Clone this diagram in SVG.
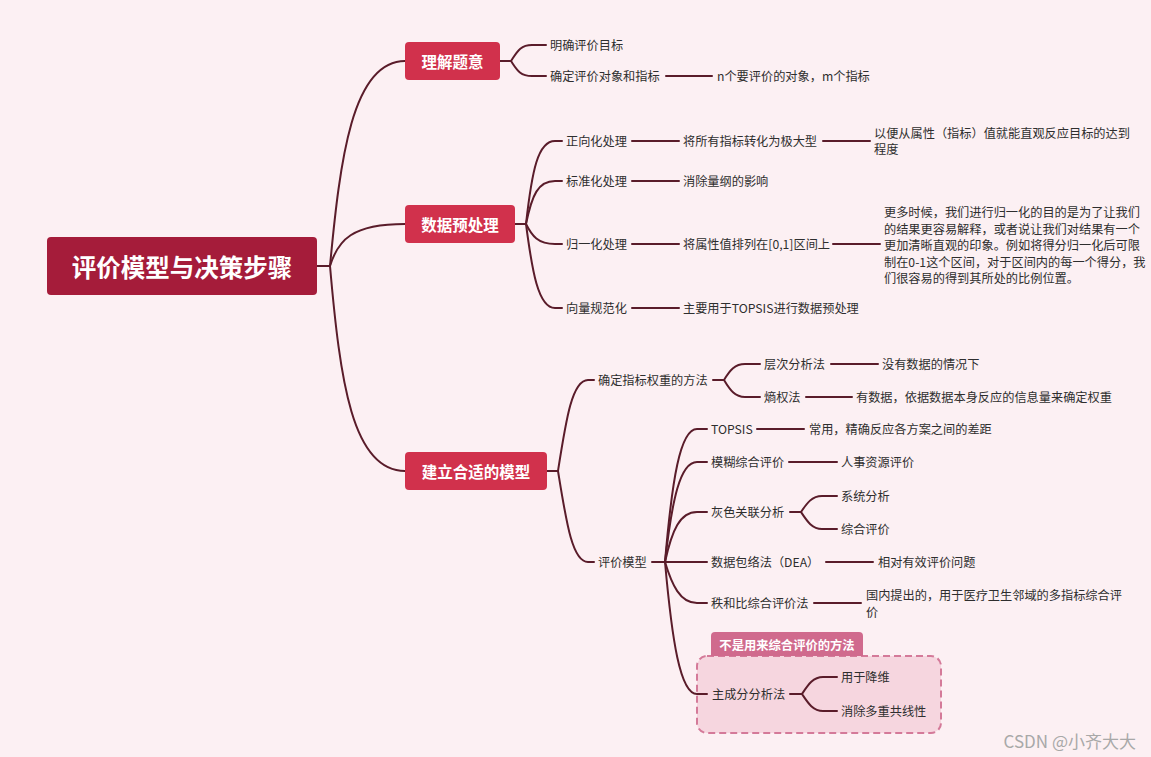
<svg xmlns="http://www.w3.org/2000/svg" width="1151" height="757" viewBox="0 0 1151 757">
<style>
.t{font-family:"Noto Sans CJK SC","Noto Sans",sans-serif;font-size:12.2px;fill:#2e2e2e;dominant-baseline:central}
.l1{font-family:"Noto Sans CJK SC","Noto Sans",sans-serif;font-size:15.5px;font-weight:bold;fill:#ffffff;dominant-baseline:central;text-anchor:middle}
.root{font-family:"Noto Sans CJK SC","Noto Sans",sans-serif;font-size:24.5px;font-weight:bold;fill:#ffffff;dominant-baseline:central;text-anchor:middle}
.c{fill:none;stroke:#5a1c2a;stroke-width:2;stroke-linecap:round}
.b1{fill:#d1314c}
</style>
<rect width="1151" height="757" fill="#fcf0f3"/>

<g id="boundary">
<rect x="697" y="656" width="244" height="77" rx="10" fill="#f6d6df" stroke="#d47a99" stroke-width="2" stroke-dasharray="7 4"/>
<path d="M711,656 V636 Q711,632 715,632 H859 Q863,632 863,636 V656 Z" fill="#d06a8d"/>
<text x="787" y="645" class="l1" style="font-size:12.3px">不是用来综合评价的方法</text>
</g>

<g id="connectors">
<path class="c" d="M317,266 L330,266"/>
<path class="c" d="M330,266 C340,160 352,61 405,61"/>
<path class="c" d="M330,266 C338,240 352,224 405,224"/>
<path class="c" d="M330,266 C340,380 352,471 405,471"/>
<path class="c" d="M500,61 L511,61 M511,61 C517,52 520,45 532,45 L546,45 M511,61 C517,70 520,76 532,76 L546,76"/>
<path class="c" d="M666,76 L712,76"/>
<path class="c" d="M515,224 L526,224"/>
<path class="c" d="M526,224 C532,170 538,141 555,141 L562,141"/>
<path class="c" d="M526,224 C532,195 538,181 555,181 L562,181"/>
<path class="c" d="M526,224 C532,236 538,244 555,244 L562,244"/>
<path class="c" d="M526,224 C532,270 538,308 555,308 L562,308"/>
<path class="c" d="M632,141 L679,141 M823,141 L870,141 M632,181 L679,181 M632,244 L679,244 M833,244 L880,244 M632,308 L679,308"/>
<path class="c" d="M547,471 L558,471"/>
<path class="c" d="M558,471 C566,420 572,380 588,380 L594,380"/>
<path class="c" d="M558,471 C566,520 572,562 588,562 L594,562"/>
<path class="c" d="M713,380 L724,380 M724,380 C730,370 735,364 745,364 L760,364 M724,380 C730,390 735,397 745,397 L760,397"/>
<path class="c" d="M831,364 L878,364 M806,397 L852,397"/>
<path class="c" d="M652,562 L665,562"/>
<path class="c" d="M665,562 C672,480 680,429 697,429 L707,429"/>
<path class="c" d="M665,562 C672,500 680,462 697,462 L707,462"/>
<path class="c" d="M665,562 C672,530 680,512 697,512 L707,512"/>
<path class="c" d="M665,562 L707,562"/>
<path class="c" d="M665,562 C672,585 680,603 697,603 L707,603"/>
<path class="c" d="M665,562 C672,640 680,694 697,694 L707,694"/>
<path class="c" d="M757,429 L804,429 M789,462 L837,462 M826,562 L873,562 M814,603 L861,603"/>
<path class="c" d="M790,512 L801,512 M801,512 C807,503 812,496 822,496 L837,496 M801,512 C807,521 812,529 822,529 L837,529"/>
<path class="c" d="M790,694 L802,694 M802,694 C808,685 813,677 823,677 L837,677 M802,694 C808,703 813,711 823,711 L837,711"/>
</g>

<g id="root">
<rect x="47" y="237" width="270" height="58" rx="4" fill="#a51c3a"/>
<text x="182" y="266" class="root">评价模型与决策步骤</text>
</g>

<g id="n-lijie">
<rect x="405" y="42" width="95" height="38" rx="4" class="b1"/>
<text x="452.5" y="61" class="l1">理解题意</text>
</g>
<g id="n-mubiao"><text x="550" y="45" class="t">明确评价目标</text></g>
<g id="n-duixiang"><text x="550" y="76" class="t">确定评价对象和指标</text></g>
<g id="n-nm"><text x="717" y="76" class="t">n个要评价的对象，m个指标</text></g>

<g id="n-yuchuli">
<rect x="405" y="205" width="110" height="38" rx="4" class="b1"/>
<text x="460" y="224" class="l1">数据预处理</text>
</g>
<g id="n-zhengxiang"><text x="566" y="141" class="t">正向化处理</text></g>
<g id="n-jida"><text x="683" y="141" class="t">将所有指标转化为极大型</text></g>
<g id="n-yibian"><text x="874" y="133" class="t">以便从属性（指标）值就能直观反应目标的达到</text><text x="874" y="149" class="t">程度</text></g>
<g id="n-biaozhun"><text x="566" y="181" class="t">标准化处理</text></g>
<g id="n-lianggang"><text x="683" y="181" class="t">消除量纲的影响</text></g>
<g id="n-guiyi"><text x="566" y="244" class="t">归一化处理</text></g>
<g id="n-qujian"><text x="683" y="244" class="t">将属性值排列在[0,1]区间上</text></g>
<g id="n-gengduo">
<text x="884" y="212" class="t">更多时候，我们进行归一化的目的是为了让我们</text>
<text x="884" y="228.5" class="t">的结果更容易解释，或者说让我们对结果有一个</text>
<text x="884" y="245" class="t">更加清晰直观的印象。例如将得分归一化后可限</text>
<text x="884" y="261.5" class="t">制在0-1这个区间，对于区间内的每一个得分，我</text>
<text x="884" y="278" class="t">们很容易的得到其所处的比例位置。</text>
</g>
<g id="n-xiangliang"><text x="566" y="308" class="t">向量规范化</text></g>
<g id="n-topsispre"><text x="683" y="308" class="t">主要用于TOPSIS进行数据预处理</text></g>

<g id="n-moxing">
<rect x="405" y="452" width="142" height="38" rx="4" class="b1"/>
<text x="476" y="471" class="l1">建立合适的模型</text>
</g>
<g id="n-quanzhong"><text x="598" y="380" class="t">确定指标权重的方法</text></g>
<g id="n-cengci"><text x="764" y="364" class="t">层次分析法</text></g>
<g id="n-meiyou"><text x="882" y="364" class="t">没有数据的情况下</text></g>
<g id="n-shangquan"><text x="764" y="397" class="t">熵权法</text></g>
<g id="n-youshuju"><text x="856" y="397" class="t">有数据，依据数据本身反应的信息量来确定权重</text></g>
<g id="n-pingjia"><text x="598" y="562" class="t">评价模型</text></g>
<g id="n-topsis"><text x="711" y="429" class="t">TOPSIS</text></g>
<g id="n-changyong"><text x="809" y="429" class="t">常用，精确反应各方案之间的差距</text></g>
<g id="n-mohu"><text x="711" y="462" class="t">模糊综合评价</text></g>
<g id="n-renshi"><text x="841" y="462" class="t">人事资源评价</text></g>
<g id="n-huise"><text x="711" y="512" class="t">灰色关联分析</text></g>
<g id="n-xitong"><text x="841" y="496" class="t">系统分析</text></g>
<g id="n-zonghe"><text x="841" y="529" class="t">综合评价</text></g>
<g id="n-dea"><text x="711" y="562" class="t">数据包络法（DEA）</text></g>
<g id="n-xiangdui"><text x="878" y="562" class="t">相对有效评价问题</text></g>
<g id="n-zhihe"><text x="711" y="603" class="t">秩和比综合评价法</text></g>
<g id="n-guonei"><text x="866" y="595" class="t">国内提出的，用于医疗卫生邻域的多指标综合评</text><text x="866" y="611.5" class="t">价</text></g>
<g id="n-zhuchengfen"><text x="712" y="694" class="t">主成分分析法</text></g>
<g id="n-jiangwei"><text x="841" y="677" class="t">用于降维</text></g>
<g id="n-gongxian"><text x="841" y="711" class="t">消除多重共线性</text></g>

<text x="1136" y="740" style="font-family:'Noto Sans CJK SC','Liberation Sans',sans-serif;font-size:17px;fill:#a8a8a8;dominant-baseline:central;text-anchor:end">CSDN @小齐大大</text>
</svg>
